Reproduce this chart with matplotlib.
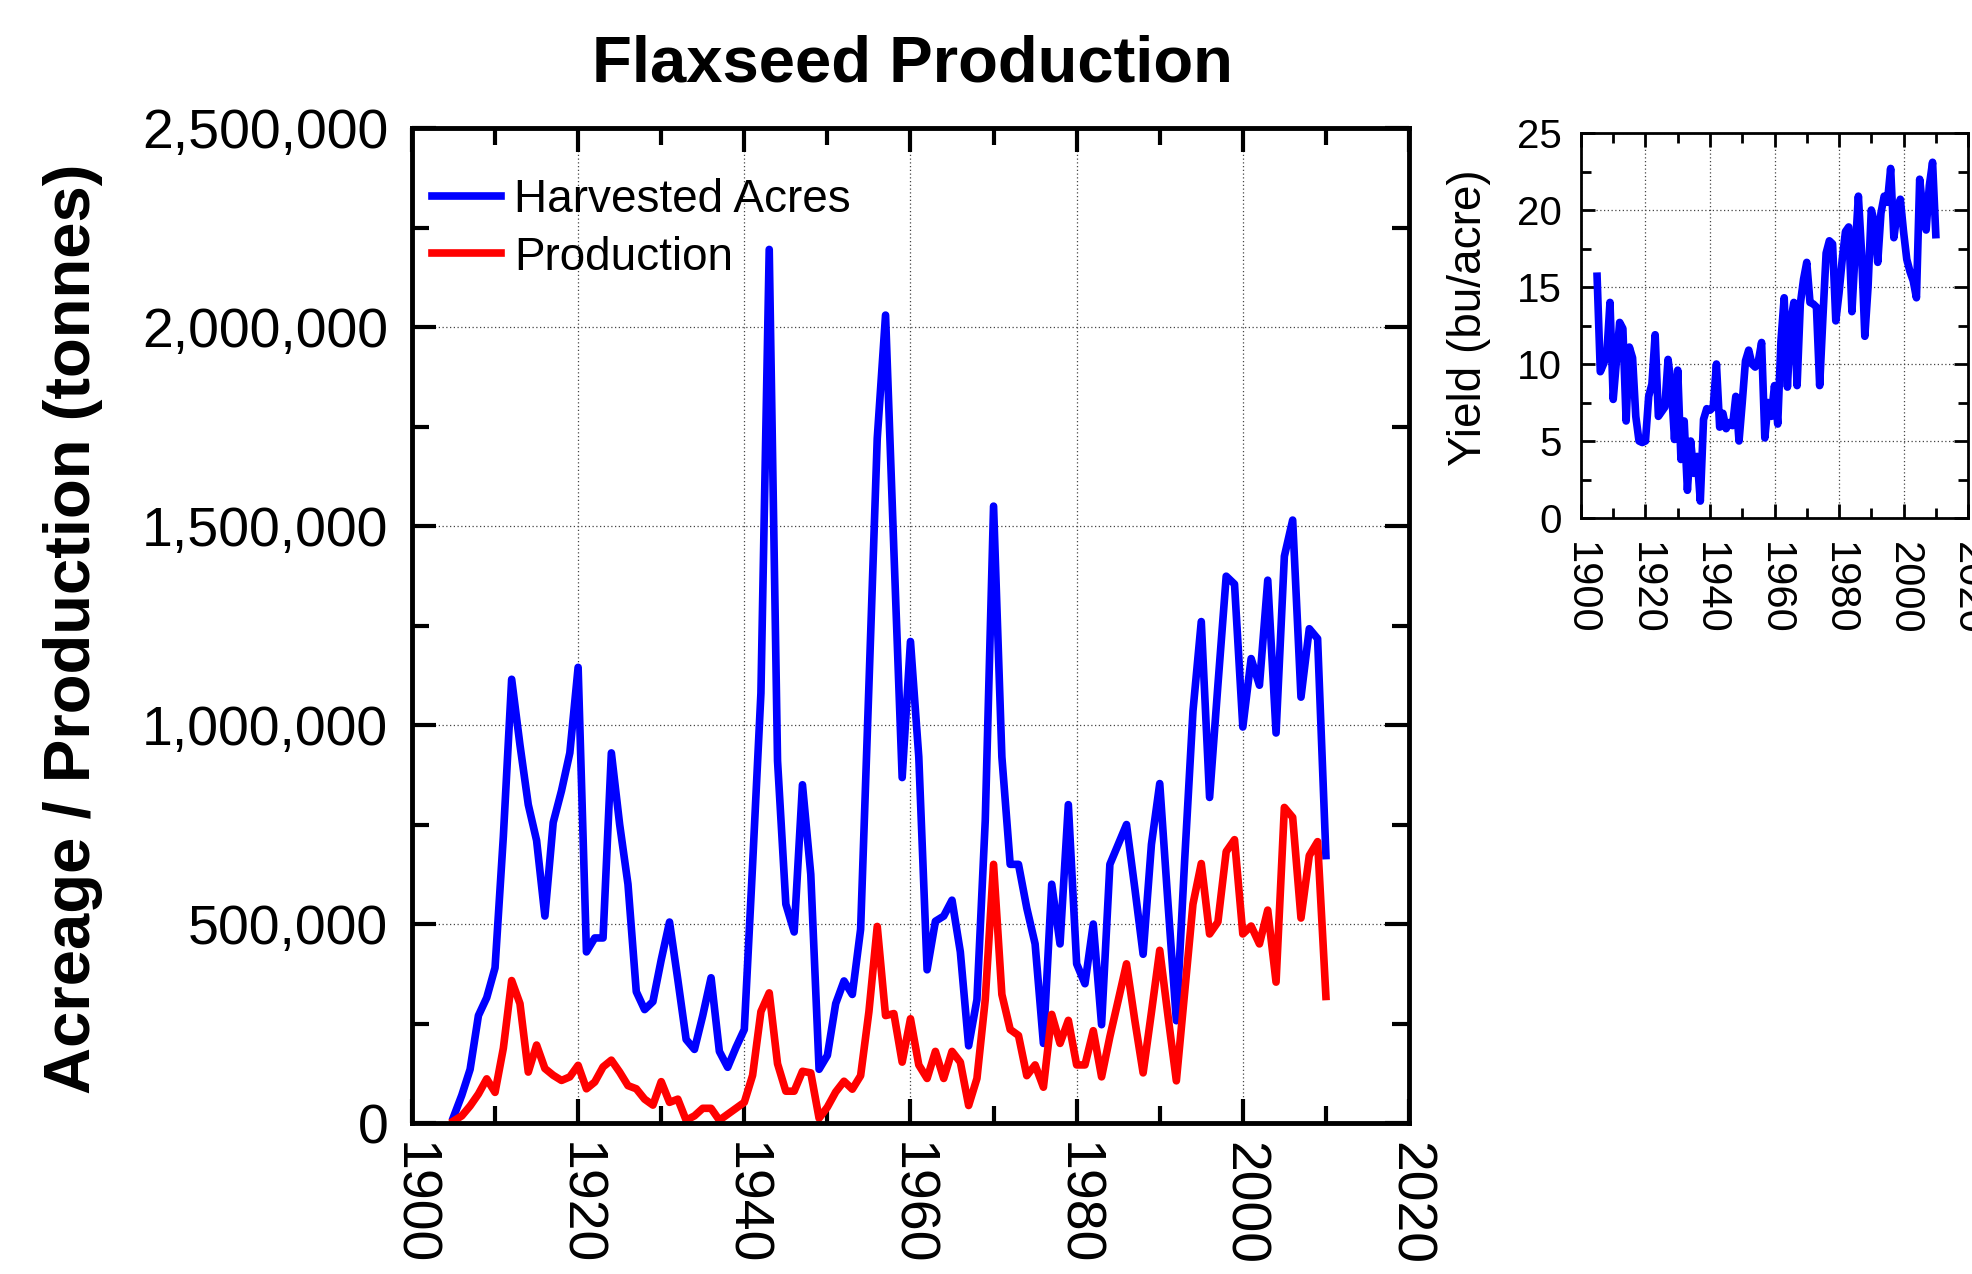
import numpy as np
import matplotlib.pyplot as plt
from matplotlib.ticker import MultipleLocator, FuncFormatter

plt.rcParams['font.family'] = ['Liberation Sans', 'DejaVu Sans']

years = list(range(1905, 2011))

# harvested acres
acres = [15000, 70000, 135000, 270000, 315000, 390000, 720000, 1115000, 950000, 800000,
         710000, 520000, 755000, 835000, 930000, 1145000, 430000, 465000, 465000, 930000,
         750000, 600000, 330000, 285000, 305000, 410000, 505000, 360000, 210000, 185000,
         270000, 365000, 180000, 140000, 190000, 235000, 650000, 1080000, 2195000, 910000,
         550000, 480000, 850000, 625000, 135000, 170000, 300000, 357000, 323000, 487000,
         1100000, 1720000, 2030000, 1440000, 868000, 1210000, 920000, 385000, 507000, 520000,
         560000, 430000, 194000, 310000, 760000, 1550000, 920000, 650000, 650000, 540000,
         450000, 200000, 600000, 450000, 800000, 400000, 350000, 500000, 247000, 650000,
         700000, 750000, 590000, 424000, 700000, 853000, 550000, 257000, 660000, 1035000,
         1260000, 818000, 1100000, 1374000, 1354000, 995000, 1167000, 1100000, 1364000, 980000,
         1424000, 1515000, 1070000, 1242000, 1217000, 672000]

# production (tonnes)
production = [5000, 18000, 43000, 73000, 111000, 77000, 188000, 358000, 300000, 128000,
              196000, 137000, 120000, 107000, 116000, 145000, 86000, 103000, 141000, 158000,
              128000, 94000, 86000, 60000, 45000, 104000, 52000, 60000, 7000, 18000,
              37000, 37000, 7000, 22000, 37000, 52000, 120000, 280000, 327000, 149000,
              80000, 80000, 130000, 126000, 12000, 40000, 78000, 105000, 85000, 119000,
              280000, 494000, 270000, 275000, 153000, 262000, 146000, 112000, 180000, 112000,
              180000, 153000, 44000, 112000, 310000, 650000, 323000, 235000, 220000, 119000,
              146000, 90000, 273000, 200000, 258000, 146000, 146000, 232000, 116000, 217000,
              308000, 400000, 258000, 126000, 278000, 434000, 268000, 106000, 328000, 550000,
              652000, 475000, 505000, 682000, 712000, 475000, 495000, 450000, 535000, 354000,
              793000, 768000, 515000, 672000, 707000, 318000]

# yield (bu/acre)
yield_bu = [15.7, 9.5, 10.0, 10.6, 14.0, 7.7, 10.2, 12.7, 12.3, 6.3,
            11.1, 10.4, 6.6, 5.0, 4.9, 5.0, 7.9, 8.7, 11.9, 6.6,
            6.9, 7.2, 10.3, 8.6, 5.1, 9.6, 3.8, 6.3, 1.8, 5.0,
            2.9, 4.0, 1.1, 6.4, 7.1, 7.0, 7.2, 10.0, 5.9, 6.8,
            5.8, 6.2, 6.0, 7.9, 5.0, 7.5, 10.2, 10.9, 10.0, 9.8,
            10.2, 11.4, 5.2, 7.5, 6.6, 8.6, 6.1, 11.5, 14.3, 8.5,
            12.7, 14.0, 8.6, 13.9, 15.5, 16.6, 14.0, 13.9, 13.7, 8.6,
            13.0, 17.2, 18.0, 17.8, 12.8, 14.6, 16.8, 18.6, 18.9, 13.4,
            17.3, 20.9, 17.2, 11.8, 15.0, 20.0, 19.2, 16.6, 19.8, 20.9,
            20.5, 22.7, 18.2, 19.8, 20.7, 18.6, 16.8, 16.0, 15.4, 14.3,
            22.0, 20.0, 18.7, 21.6, 23.1, 18.4]

fig = plt.figure(figsize=(19.72, 12.74), dpi=100)

# main chart
ax = fig.add_axes([0.2089, 0.1185, 0.5056, 0.781])
ax.plot(years, acres, color='#0000ff', lw=5.5, label='Harvested Acres')
ax.plot(years, production, color='#ff0000', lw=5.5, label='Production')
ax.set_xlim(1900, 2020)
ax.set_ylim(0, 2500000)
ax.xaxis.set_major_locator(MultipleLocator(20))
ax.xaxis.set_minor_locator(MultipleLocator(10))
ax.yaxis.set_major_locator(MultipleLocator(500000))
ax.yaxis.set_minor_locator(MultipleLocator(250000))
ax.yaxis.set_major_formatter(FuncFormatter(lambda v, p: f'{v:,.0f}'))
ax.tick_params(which='both', direction='in', top=True, right=True, width=3)
ax.tick_params(which='major', length=17)
ax.tick_params(which='minor', length=12)
ax.tick_params(axis='y', labelsize=40, pad=17)
ax.tick_params(axis='x', labelsize=40, pad=14, labelrotation=-90)
for lab in ax.get_xticklabels():
    lab.set_ha('center')
    lab.set_va('top')
ax.grid(True, which='major', color='#444444', lw=0.9, ls=(0, (1, 2)))
for s in ax.spines.values():
    s.set_linewidth(3.5)
leg = ax.legend(loc='upper left', bbox_to_anchor=(0.02, 0.95), frameon=False,
                fontsize=33, handlelength=1.5, handletextpad=0.3, labelspacing=0.3,
                borderpad=0, borderaxespad=0)

fig.text(912 / 1972, 1 - 65 / 1274, 'Flaxseed Production', fontsize=47,
         fontweight='bold', ha='center', va='center')
fig.text(73 / 1972, 1 - 629 / 1274, 'Acreage / Production (tonnes)', fontsize=47,
         fontweight='bold', ha='center', va='center', rotation=90)

# yield inset
ax2 = fig.add_axes([0.8017, 0.5934, 0.1963, 0.3022])
ax2.plot(years, yield_bu, color='#0000ff', lw=5.5)
ax2.set_xlim(1900, 2020)
ax2.set_ylim(0, 25)
ax2.xaxis.set_major_locator(MultipleLocator(20))
ax2.xaxis.set_minor_locator(MultipleLocator(10))
ax2.yaxis.set_major_locator(MultipleLocator(5))
ax2.yaxis.set_minor_locator(MultipleLocator(2.5))
ax2.tick_params(which='both', direction='in', top=True, right=True, width=2)
ax2.tick_params(which='major', length=10)
ax2.tick_params(which='minor', length=7)
ax2.tick_params(axis='y', labelsize=29, pad=14)
ax2.tick_params(axis='x', labelsize=30, pad=17, labelrotation=-90)
for lab in ax2.get_xticklabels():
    lab.set_ha('center')
    lab.set_va('top')
ax2.grid(True, which='major', color='#444444', lw=0.9, ls=(0, (1, 2)))
for s in ax2.spines.values():
    s.set_linewidth(2)
fig.text(1469 / 1972, 1 - 318 / 1274, 'Yield (bu/acre)', fontsize=33,
         ha='center', va='center', rotation=90)

fig.savefig('out.png', dpi=100)
